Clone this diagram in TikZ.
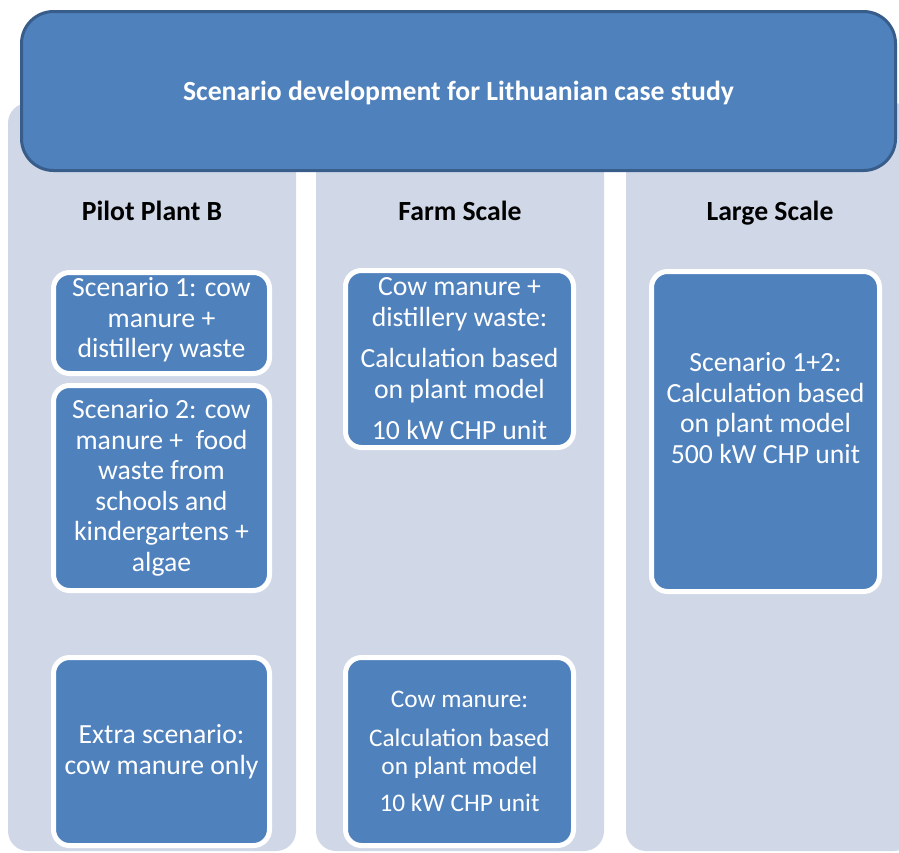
\documentclass[tikz,border=0pt]{standalone}
\usepackage{fontspec}
\setmainfont{Carlito}
\definecolor{boxblue}{HTML}{4F81BD}
\definecolor{boxedge}{HTML}{385D8A}
\definecolor{lanegray}{HTML}{D0D8E8}

\begin{document}
\begin{tikzpicture}[x=1pt,y=-1pt,
                lane/.style={fill=lanegray,rounded corners=20pt,minimum width=288pt,minimum height=748pt,inner sep=0pt},
                scen/.style={fill=boxblue,draw=white,line width=5pt,rounded corners=16pt,text=white,align=center,inner sep=0pt,font=\fontsize{27.7}{30.5}\selectfont},
                scentext/.style={text=white,align=center,inner sep=0pt,font=\fontsize{27.7}{30.5}\selectfont},
                head/.style={anchor=base,font=\fontsize{27.7}{30.5}\selectfont\bfseries}]
                \useasboundingbox (0,0) rectangle (899,852);
                \clip (0,0) rectangle (899,852);
                \node[lane] (pilot) at (152,477) {};
                \node[lane] (farm) at (460,477) {};
                \node[lane] (large) at (770,477) {};
                \node[fill=boxblue,draw=boxedge,line width=3pt,rounded corners=32pt,minimum width=874pt,minimum height=159pt,text depth=0pt,text=white,font=\fontsize{27.7}{30.5}\selectfont\bfseries] (title) at (458.5,91) {Scenario development for Lithuanian case study};
                \node[head] (pilothead) at (152,220) {Pilot Plant B};
                \node[head] (farmhead) at (460,220) {Farm Scale};
                \node[head] (largehead) at (770,220) {Large Scale};
                \node[scen,minimum width=216pt,minimum height=101pt] (a1) at (161.5,323) {};
                \node[scentext] (a1text) at (161.5,320) {Scenario 1: cow\\manure +\\distillery waste};
                \node[scen,minimum width=216pt,minimum height=205pt] (a2) at (161.5,488) {Scenario 2: cow\\manure +\ \ food\\waste from\\schools and\\kindergartens +\\algae};
                \node[scen,minimum width=216pt,minimum height=188pt] (a3) at (161.5,751.5) {Extra scenario:\\cow manure only};
                \node[scen,minimum width=228pt,minimum height=177pt] (b1) at (459.5,359) {Cow manure +\\distillery waste:\\[11pt]Calculation based\\on plant model\\[11pt]10 kW CHP unit};
                \node[scen,minimum width=228pt,minimum height=188pt,font=\fontsize{25.3}{28}\selectfont] (b2) at (459.5,751.5) {Cow manure:\\[11pt]Calculation based\\on plant model\\[9pt]10 kW CHP unit};
                \node[scen,minimum width=228pt,minimum height=320pt] (c1) at (765.5,431.5) {};
                \node[scentext] (c1text) at (765.5,408) {Scenario 1+2:\\Calculation based\\on plant model\\500 kW CHP unit};
            \end{tikzpicture}
\end{document}
